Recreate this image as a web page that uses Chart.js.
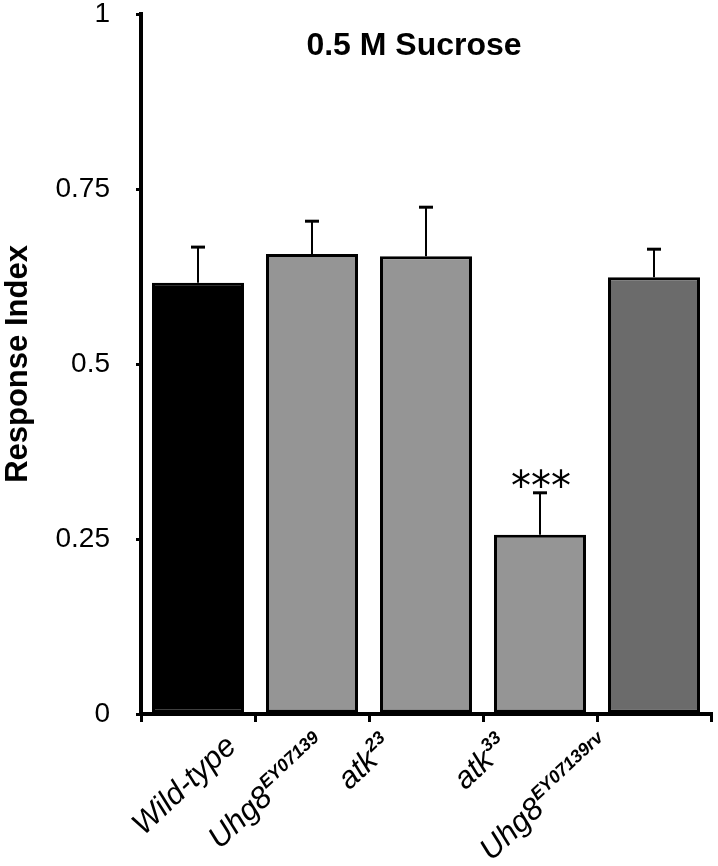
<!DOCTYPE html>
<html>
<head>
<meta charset="utf-8">
<script src="https://cdn.jsdelivr.net/npm/chart.js@4.4.0/dist/chart.umd.min.js"></script>
<style>
  html, body { margin: 0; padding: 0; background: #fff; }
  #wrap { width: 718px; height: 866px; }
</style>
</head>
<body>
<div id="wrap"><canvas id="chart"></canvas></div>
<script>
// data
const genotypes = ['Wild-type', 'Uhg8', 'atk', 'atk', 'Uhg8'];
const superscripts = ['', 'EY07139', '23', '33', 'EY07139rv'];
const responseIndex = [0.616, 0.657, 0.654, 0.256, 0.624];
const sem = [0.051, 0.047, 0.070, 0.060, 0.040];
const significance = ['', '', '', '***', ''];
const yTicks = [0, 0.25, 0.5, 0.75, 1];
const barColors = ['#000000', '#959595', '#959595', '#959595', '#6b6b6b'];
const chartTitle = '0.5 M Sucrose';
const yTitle = 'Response Index';

// layout only: where each rotated label ends, relative to its bar centre
const labelShift = [33, 10, -38, -36, -48];

const FONT = 'Arial, "Liberation Sans", sans-serif';

const errorBars = {
  id: 'errorBars',
  afterDatasetsDraw(chart) {
    const ctx = chart.ctx;
    const y = chart.scales.y;
    const meta = chart.getDatasetMeta(0);
    ctx.save();
    ctx.strokeStyle = '#000';
    meta.data.forEach((bar, i) => {
      const top = y.getPixelForValue(responseIndex[i] + sem[i]);
      ctx.lineWidth = 2;
      ctx.beginPath();
      ctx.moveTo(bar.x, bar.y);
      ctx.lineTo(bar.x, top);
      ctx.stroke();
      ctx.lineWidth = 3;
      ctx.beginPath();
      ctx.moveTo(bar.x - 7, top);
      ctx.lineTo(bar.x + 7, top);
      ctx.stroke();
      if (significance[i]) {
        ctx.fillStyle = '#000';
        ctx.font = '40px "DejaVu Sans", sans-serif';
        ctx.textAlign = 'center';
        ctx.textBaseline = 'alphabetic';
        ctx.fillText(significance[i], bar.x + 1, top + 7);
      }
    });
    ctx.restore();
  }
};

const extraText = {
  id: 'extraText',
  afterDraw(chart) {
    const ctx = chart.ctx;
    const area = chart.chartArea;
    const x = chart.scales.x;
    ctx.save();
    ctx.fillStyle = '#000';
    ctx.font = 'bold 32px ' + FONT;
    ctx.textAlign = 'center';
    ctx.textBaseline = 'middle';
    ctx.fillText(chartTitle, (area.left + area.right) / 2 - 12, 46);

    genotypes.forEach((name, i) => {
      const cx = x.getPixelForValue(i) + labelShift[i];
      const cy = area.bottom + 27;
      ctx.save();
      ctx.translate(cx, cy);
      ctx.rotate(-43 * Math.PI / 180);
      ctx.textAlign = 'left';
      ctx.textBaseline = 'alphabetic';
      ctx.font = 'italic 31px ' + FONT;
      const wb = ctx.measureText(name).width;
      ctx.font = 'italic bold 18px ' + FONT;
      const ws = superscripts[i] ? ctx.measureText(superscripts[i]).width + 1 : 0;
      const start = -(wb + ws);
      ctx.font = 'italic 31px ' + FONT;
      ctx.fillText(name, start, 10);
      if (superscripts[i]) {
        ctx.font = 'italic bold 18px ' + FONT;
        ctx.fillText(superscripts[i], start + wb + 1, -3);
      }
      ctx.restore();
    });
    ctx.restore();
  }
};

const ctx = document.getElementById('chart').getContext('2d');
const myChart = new Chart(ctx, {
  type: 'bar',
  data: {
    labels: genotypes.map((g, i) => g + superscripts[i]),
    datasets: [{
      label: yTitle,
      data: responseIndex,
      backgroundColor: barColors,
      borderColor: '#000',
      borderWidth: 3,
      borderSkipped: false,
      barPercentage: 0.807,
      categoryPercentage: 1
    }]
  },
  options: {
    responsive: true,
    maintainAspectRatio: false,
    animation: false,
    layout: { padding: { top: 14, right: 7, left: 0, bottom: 0 } },
    plugins: {
      legend: { display: false },
      tooltip: { enabled: false },
      title: { display: false }
    },
    scales: {
      x: {
        offset: true,
        border: { color: '#000', width: 4 },
        grid: { offset: true, drawOnChartArea: false, drawTicks: true, tickLength: 8, lineWidth: 3, color: '#000' },
        ticks: { display: false },
        afterFit(scale) { scale.height = 152; }
      },
      y: {
        min: 0,
        max: 1,
        afterBuildTicks(scale) { scale.ticks = yTicks.map(v => ({ value: v })); },
        border: { color: '#000', width: 4 },
        grid: { drawOnChartArea: false, drawTicks: true, tickLength: 5, lineWidth: 3, color: '#000' },
        ticks: {
          color: '#000',
          font: { family: FONT, size: 28 },
          padding: 26,
          callback: v => String(v)
        },
        title: {
          display: true,
          text: yTitle,
          color: '#000',
          font: { family: FONT, size: 31, weight: 'bold' },
          padding: { top: 0, bottom: 0 }
        },
        afterFit(scale) {
          scale.width = 141;
          scale.paddingTop = 0;
          scale.paddingBottom = 0;
        }
      }
    }
  },
  plugins: [errorBars, extraText]
});
</script>
</body>
</html>
